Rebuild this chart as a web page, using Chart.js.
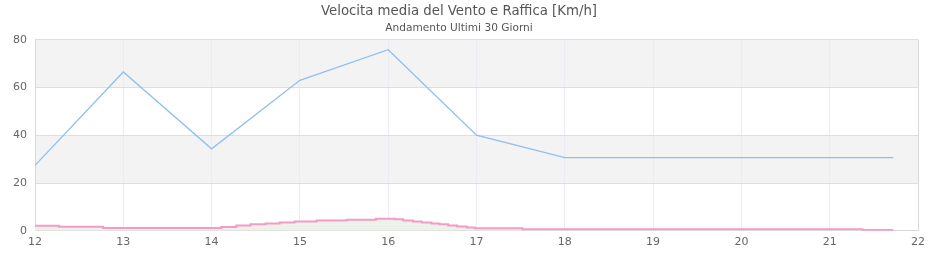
<!DOCTYPE html>
<html lang="it">
<head>
<meta charset="UTF-8">
<title>Velocita media del Vento e Raffica</title>
<script src="https://cdn.jsdelivr.net/npm/chart.js@4/dist/chart.umd.min.js"></script>
<style>
    html, body { margin: 0; padding: 0; background: #fff; }
</style>
</head>
<body>
<canvas id="myChart" width="940" height="260"></canvas>
<script>
    // raffica (blue line)
    var gustDays = [12, 13, 14, 15, 16, 17, 18, 19, 20, 21, 21.72];
    var gustValues = [27.4, 66.5, 34.3, 63, 75.8, 40, 30.6, 30.6, 30.6, 30.6, 30.6];

    // velocita media (pink step line)
    var avgDays = [12, 12.27, 12.77, 14.11, 14.28, 14.44, 14.61, 14.77, 14.94, 15.19, 15.53, 15.86,
        16.08, 16.17, 16.28, 16.38, 16.49, 16.58, 16.68, 16.78, 16.89, 16.98, 17.52, 21.37, 21.72];
    var avgValues = [2.1, 1.7, 1.2, 1.6, 2.2, 2.7, 3.1, 3.5, 3.9, 4.3, 4.6, 5.0,
        4.8, 4.3, 3.9, 3.5, 3.1, 2.7, 2.2, 1.8, 1.4, 1.1, 0.7, 0.3, 0.3];

    var xTicks = [12, 22];
    var yTicks = [0, 80];
    var bands = [[20, 40], [60, 80]];

    function toPoints(xs, ys) {
        var pts = [];
        for (var i = 0; i < xs.length; i++) {
            pts.push({ x: xs[i], y: ys[i] });
        }
        return pts;
    }

    // grey alternate bands behind the plot
    var bandPlugin = {
        id: 'bands',
        beforeDraw: function (chart) {
            var ctx = chart.ctx, area = chart.chartArea, y = chart.scales.y;
            ctx.save();
            ctx.fillStyle = '#f3f3f3';
            bands.forEach(function (b) {
                var top = y.getPixelForValue(b[1]);
                var bot = y.getPixelForValue(b[0]);
                ctx.fillRect(area.left, top, area.right - area.left, bot - top);
            });
            ctx.restore();
        }
    };

    Chart.defaults.font.family = '"DejaVu Sans", sans-serif';
    Chart.defaults.color = '#666';

    var ctx = document.getElementById('myChart').getContext('2d');
    var myChart = new Chart(ctx, {
        type: 'line',
        data: {
            datasets: [{
                label: 'Raffica',
                data: toPoints(gustDays, gustValues),
                borderColor: '#8fbff0',
                borderWidth: 1.3,
                pointRadius: 0,
                fill: false,
                tension: 0
            }, {
                label: 'Velocita media',
                data: toPoints(avgDays, avgValues),
                borderColor: '#f49ac6',
                backgroundColor: '#ecf2ea',
                borderWidth: 2,
                pointRadius: 0,
                stepped: true,
                fill: 'origin'
            }]
        },
        options: {
            responsive: false,
            animation: false,
            devicePixelRatio: 1,
            layout: { padding: { left: 0, right: 22, top: 0, bottom: 6 } },
            plugins: {
                legend: { display: false },
                tooltip: { enabled: false },
                title: {
                    display: true,
                    text: 'Velocita media del Vento e Raffica [Km/h]',
                    color: '#555',
                    font: { size: 13.3, weight: 'normal' },
                    padding: { top: 4, bottom: 2 }
                },
                subtitle: {
                    display: true,
                    text: 'Andamento Ultimi 30 Giorni',
                    color: '#555',
                    font: { size: 10.6 },
                    padding: { top: 0, bottom: 5 }
                }
            },
            scales: {
                x: {
                    type: 'linear',
                    min: xTicks[0],
                    max: xTicks[1],
                    ticks: { stepSize: 1, padding: 5, font: { size: 11 }, color: '#666', maxRotation: 0 },
                    grid: {
                        drawTicks: false,
                        color: function (c) {
                            return c.index === 10 ? '#d8d8d8' : '#ebebf8';
                        }
                    },
                    border: { color: '#d8d8d8' }
                },
                y: {
                    min: yTicks[0],
                    max: yTicks[1],
                    afterFit: function (s) { s.width = 35; },
                    ticks: { stepSize: 20, padding: 8, font: { size: 11 }, color: '#666' },
                    grid: { drawTicks: false, color: '#dedede' },
                    border: { color: '#d8d8d8' }
                }
            }
        },
        plugins: [bandPlugin]
    });
</script>
</body>
</html>
